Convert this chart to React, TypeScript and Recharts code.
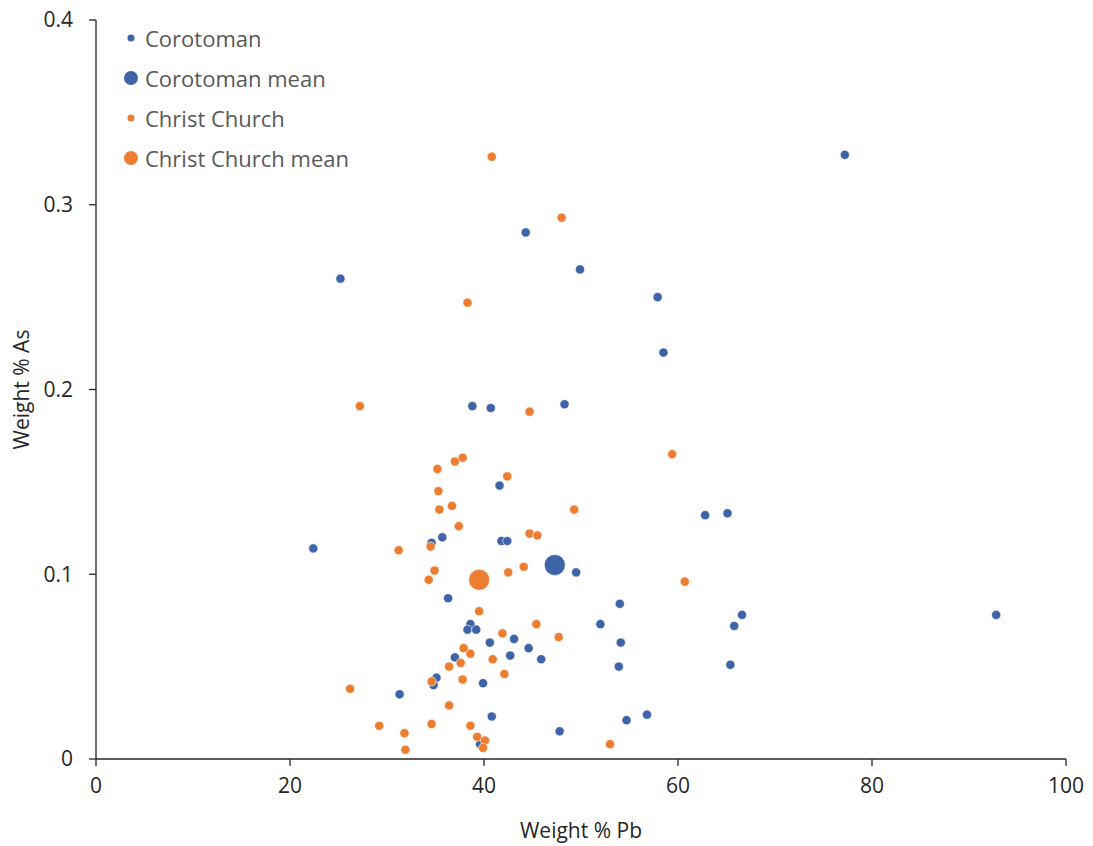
import { ScatterChart, Scatter, XAxis, YAxis } from 'recharts';

const corotomanPb = [
  77.2, 44.3, 25.2, 49.9, 57.9, 58.5, 38.8, 40.7, 48.3, 41.6, 62.8, 65.1, 22.4, 34.6, 35.7,
  41.8, 42.4, 49.5, 36.3, 54.0, 52.0, 38.6, 38.3, 39.2, 40.6, 43.1, 44.6, 42.7, 37.0, 45.9,
  54.1, 53.9, 66.6, 65.8, 65.4, 92.8, 35.1, 34.8, 39.9, 31.3, 40.8, 47.8, 54.7, 56.8, 39.6,
];
const corotomanAs = [
  0.327, 0.285, 0.260, 0.265, 0.250, 0.220, 0.191, 0.190, 0.192, 0.148, 0.132, 0.133, 0.114, 0.117, 0.120,
  0.118, 0.118, 0.101, 0.087, 0.084, 0.073, 0.073, 0.070, 0.070, 0.063, 0.065, 0.060, 0.056, 0.055, 0.054,
  0.063, 0.050, 0.078, 0.072, 0.051, 0.078, 0.044, 0.040, 0.041, 0.035, 0.023, 0.015, 0.021, 0.024, 0.008,
];
const christPb = [
  40.8, 48.0, 38.3, 27.2, 44.7, 59.4, 37.8, 37.0, 35.2, 42.4, 35.3, 36.7, 35.4, 49.3, 37.4,
  44.7, 45.5, 34.5, 31.2, 34.9, 42.5, 44.1, 34.3, 60.7, 39.5, 45.4, 47.7, 41.9, 37.9, 38.6,
  40.9, 37.6, 36.4, 42.1, 34.6, 37.8, 26.2, 36.4, 29.2, 34.6, 38.6, 31.8, 39.3, 40.1, 39.9,
  31.9, 53.0,
];
const christAs = [
  0.326, 0.293, 0.247, 0.191, 0.188, 0.165, 0.163, 0.161, 0.157, 0.153, 0.145, 0.137, 0.135, 0.135, 0.126,
  0.122, 0.121, 0.115, 0.113, 0.102, 0.101, 0.104, 0.097, 0.096, 0.080, 0.073, 0.066, 0.068, 0.060, 0.057,
  0.054, 0.052, 0.050, 0.046, 0.042, 0.043, 0.038, 0.029, 0.018, 0.019, 0.018, 0.014, 0.012, 0.010, 0.006,
  0.005, 0.008,
];
const corotomanMean = { pb: 47.3, as: 0.105 };
const christMean = { pb: 39.5, as: 0.097 };

const xTicks = [0, 20, 40, 60, 80, 100];
const yTicks = [0, 0.1, 0.2, 0.3, 0.4];

const BLUE = '#3E63A6';
const ORANGE = '#ED7D31';
const FONT = '"Open Sans", "Liberation Sans", sans-serif';

const corotoman = corotomanPb.map((pb, i) => ({ pb, as: corotomanAs[i] }));
const christ = christPb.map((pb, i) => ({ pb, as: christAs[i] }));

const legendItems = [
  { label: 'Corotoman', color: BLUE, r: 3.5 },
  { label: 'Corotoman mean', color: BLUE, r: 7 },
  { label: 'Christ Church', color: ORANGE, r: 3.5 },
  { label: 'Christ Church mean', color: ORANGE, r: 7 },
];

const dot = (r: number, color: string) => (props: any) => (
  <circle cx={props.cx} cy={props.cy} r={r} fill={color} stroke="#fff" strokeWidth={0.6} />
);

// legend drawn as an overlay so it doesn't eat into the plot area
function LegendBox() {
  return (
    <div style={{ position: 'absolute', left: 122, top: 18, fontFamily: FONT, fontSize: 22, color: '#595959' }}>
      {legendItems.map((it) => (
        <div key={it.label} style={{ display: 'flex', alignItems: 'center', height: 40 }}>
          <svg width={18} height={18} style={{ marginRight: 5 }}>
            <circle cx={9} cy={9} r={it.r} fill={it.color} />
          </svg>
          <span>{it.label}</span>
        </div>
      ))}
    </div>
  );
}

export default function App() {
  return (
    <div style={{ position: 'absolute', left: 0, top: 0, width: 1093, height: 846, background: '#fff' }}>
      <ScatterChart width={1093} height={846} margin={{ top: 20, right: 27, bottom: 0, left: 0 }}>
        <XAxis
          type="number" dataKey="pb" domain={[0, 100]} ticks={xTicks} height={87}
          stroke="#262626" strokeWidth={1.3} tickSize={7} tickMargin={12}
          tick={{ fill: '#262626', fontSize: 21, fontFamily: FONT }}
          label={{ value: 'Weight % Pb', position: 'insideBottom', offset: 8, fill: '#262626', fontSize: 21, fontFamily: FONT }}
        />
        <YAxis
          type="number" dataKey="as" domain={[0, 0.4]} ticks={yTicks} width={96}
          stroke="#262626" strokeWidth={1.3} tickSize={7} tickMargin={16}
          tickFormatter={(v: number) => String(v)}
          tick={{ fill: '#262626', fontSize: 21, fontFamily: FONT }}
          label={{ value: 'Weight % As', angle: -90, position: 'insideLeft', offset: 22, fill: '#262626', fontSize: 21, fontFamily: FONT, style: { textAnchor: 'middle' } }}
        />
        <Scatter name="Corotoman" data={corotoman} shape={dot(4.6, BLUE)} isAnimationActive={false} />
        <Scatter name="Corotoman mean" data={[corotomanMean]} shape={dot(10.5, BLUE)} isAnimationActive={false} />
        <Scatter name="Christ Church" data={christ} shape={dot(4.6, ORANGE)} isAnimationActive={false} />
        <Scatter name="Christ Church mean" data={[christMean]} shape={dot(10.5, ORANGE)} isAnimationActive={false} />
      </ScatterChart>
      <LegendBox />
    </div>
  );
}
